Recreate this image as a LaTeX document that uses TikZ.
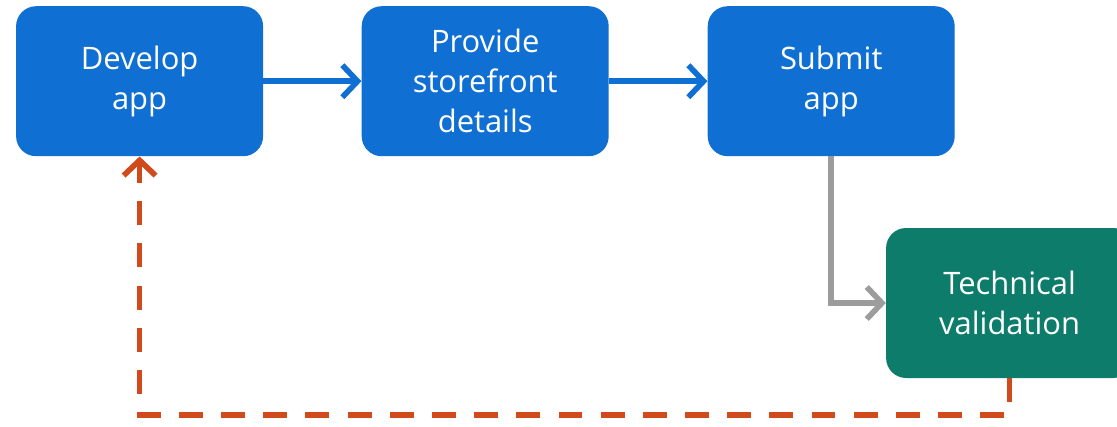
\documentclass[tikz,border=0pt]{standalone}
\usepackage{fontspec}
\setmainfont{Open Sans}
\usepackage{xcolor}
\usepackage{tikz}
\usetikzlibrary{arrows.meta}
\definecolor{stepblue}{HTML}{0F6FD2}
\definecolor{checkgreen}{HTML}{0E7C6B}
\definecolor{flowgray}{HTML}{9C9C9C}
\definecolor{backred}{HTML}{D04A1C}

\begin{document}
\begin{tikzpicture}[
  stepbox/.style={rounded corners=0.5cm, minimum width=6.175cm, minimum height=3.75cm,
    text=white, align=center, font=\fontsize{22}{28.5}\selectfont},
  flow/.style={line width=4pt, -{Straight Barb[length=3.8mm,width=8mm]}}
]
\clip (0,0) rectangle (27.925,-10.65);
\node[stepbox, fill=stepblue]   (dev)    at (3.49,-2.03)   {Develop\\app};
\node[stepbox, fill=stepblue]   (store)  at (12.13,-2.03)  {Provide\\storefront\\details};
\node[stepbox, fill=stepblue]   (submit) at (20.78,-2.03)  {Submit\\app};
\node[stepbox, fill=checkgreen] (tech)   at (25.24,-7.575) {Technical\\validation};
% forward steps
\draw[flow, stepblue] (dev) -- (store);
\draw[flow, stepblue] (store) -- (submit);
\draw[flow, flowgray] (submit.south) |- (tech.west);
% failed validation goes back
\coordinate (back) at (3.49,-10.375);
\draw[flow, backred, dash pattern=on 17pt off 13pt] (tech.south) |- (back) -- (dev.south);
\end{tikzpicture}
\end{document}
